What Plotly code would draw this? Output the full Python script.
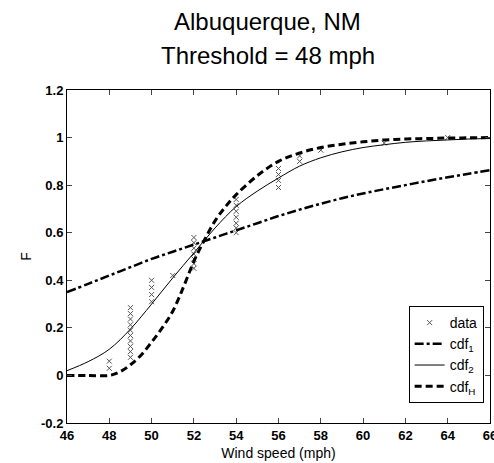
import plotly.graph_objects as go

# empirical points (wind speed, F)
data_x = [48, 48,
          49, 49, 49, 49, 49, 49, 49, 49, 49, 49,
          50, 50, 50, 50,
          51,
          52, 52, 52, 52, 52, 52, 52,
          54, 54, 54, 54, 54, 54, 54,
          56, 56, 56, 56,
          57, 57,
          58,
          61,
          64]
data_f = [0.03, 0.06,
          0.076, 0.10, 0.122, 0.145, 0.168, 0.19, 0.213, 0.237, 0.26, 0.285,
          0.31, 0.34, 0.37, 0.40,
          0.42,
          0.45, 0.47, 0.49, 0.51, 0.535, 0.558, 0.58,
          0.60, 0.62, 0.64, 0.665, 0.69, 0.715, 0.74,
          0.79, 0.82, 0.845, 0.87,
          0.90, 0.923,
          0.947,
          0.977,
          1.0]

cdf1_x = [46, 47, 48, 49, 50, 51, 52, 53, 54, 55, 56, 57, 58, 59, 60, 61, 62, 63, 64, 65, 66]
cdf1_f = [0.35, 0.385, 0.42, 0.455, 0.49, 0.52, 0.55, 0.58, 0.61, 0.64, 0.67, 0.697,
          0.722, 0.745, 0.765, 0.783, 0.80, 0.817, 0.833, 0.848, 0.863]

cdf2_x = [46, 47, 48, 49, 50, 51, 52, 53, 54, 55, 56, 57, 58, 59, 60, 61, 62, 63, 64, 65, 66]
cdf2_f = [0.02, 0.058, 0.11, 0.195, 0.30, 0.41, 0.515, 0.62, 0.71, 0.775, 0.83, 0.88,
          0.915, 0.94, 0.958, 0.97, 0.98, 0.986, 0.99, 0.994, 0.996]

cdfH_x = [46, 47, 48, 48.5, 49, 49.5, 50, 50.5, 51, 51.5, 52, 52.5, 53, 53.5, 54,
          55, 56, 57, 58, 59, 60, 61, 62, 63, 64, 65, 66]
cdfH_f = [0, 0, 0, 0.015, 0.045, 0.085, 0.14, 0.2, 0.27, 0.37, 0.48, 0.57, 0.65, 0.71, 0.76,
          0.84, 0.90, 0.935, 0.958, 0.972, 0.982, 0.99, 0.994, 0.996, 0.998, 0.999, 1.0]

y_ticks = [-0.2, 0, 0.2, 0.4, 0.6, 0.8, 1, 1.2]
y_text = ["-0.2", "0", "0.2", "0.4", "0.6", "0.8", "1", "1.2"]

title_lines = ["Albuquerque, NM", "Threshold = 48 mph"]

fnt = "Arial, Liberation Sans, Helvetica, sans-serif"

fig = go.Figure()
fig.add_trace(go.Scatter(x=data_x, y=data_f, mode="markers", name="data",
                         marker=dict(symbol="x-thin", size=5, line=dict(width=1, color="#555"))))
fig.add_trace(go.Scatter(x=cdf1_x, y=cdf1_f, mode="lines", name="cdf<sub>1</sub>",
                         line=dict(color="black", width=2.5, dash="dashdot", shape="spline")))
fig.add_trace(go.Scatter(x=cdf2_x, y=cdf2_f, mode="lines", name="cdf<sub>2</sub>",
                         line=dict(color="black", width=1, shape="spline")))
fig.add_trace(go.Scatter(x=cdfH_x, y=cdfH_f, mode="lines", name="cdf<sub>H</sub>",
                         line=dict(color="black", width=3, dash="7px,4px", shape="spline")))

# two title lines, spaced like the original
for txt, yy in zip(title_lines, [1.207, 1.105]):
    fig.add_annotation(text=txt, xref="paper", yref="paper", x=0.475, y=yy,
                       xanchor="center", yanchor="middle", showarrow=False,
                       font=dict(size=24))

fig.update_layout(
    width=494, height=463,
    margin=dict(l=67, r=4, t=90, b=40),
    paper_bgcolor="white", plot_bgcolor="white",
    font=dict(family=fnt, color="black"),
    legend=dict(x=0.985, y=0.06, xanchor="right", yanchor="bottom",
                bordercolor="black", borderwidth=1, bgcolor="white",
                font=dict(size=14), tracegroupgap=0, itemwidth=30),
    showlegend=True,
)
fig.update_xaxes(range=[46, 66], dtick=2, tick0=46, ticks="inside", ticklen=5,
                 showline=True, linecolor="black", linewidth=1, mirror="ticks",
                 showgrid=False, zeroline=False, ticklabeloverflow="allow", automargin=False,
                 tickfont=dict(size=13, weight="bold"),
                 title=dict(text="Wind speed (mph)", font=dict(size=14), standoff=6))
fig.update_yaxes(range=[-0.2, 1.2], tickvals=y_ticks, ticktext=y_text, ticks="inside", ticklen=5,
                 showline=True, linecolor="black", linewidth=1, mirror="ticks",
                 showgrid=False, zeroline=False, automargin=False,
                 tickfont=dict(size=13, weight="bold"),
                 title=dict(text="F", font=dict(size=14), standoff=6))

fig.write_html("out.html", config={"displayModeBar": False},
               post_script="document.body.style.margin='0';")
